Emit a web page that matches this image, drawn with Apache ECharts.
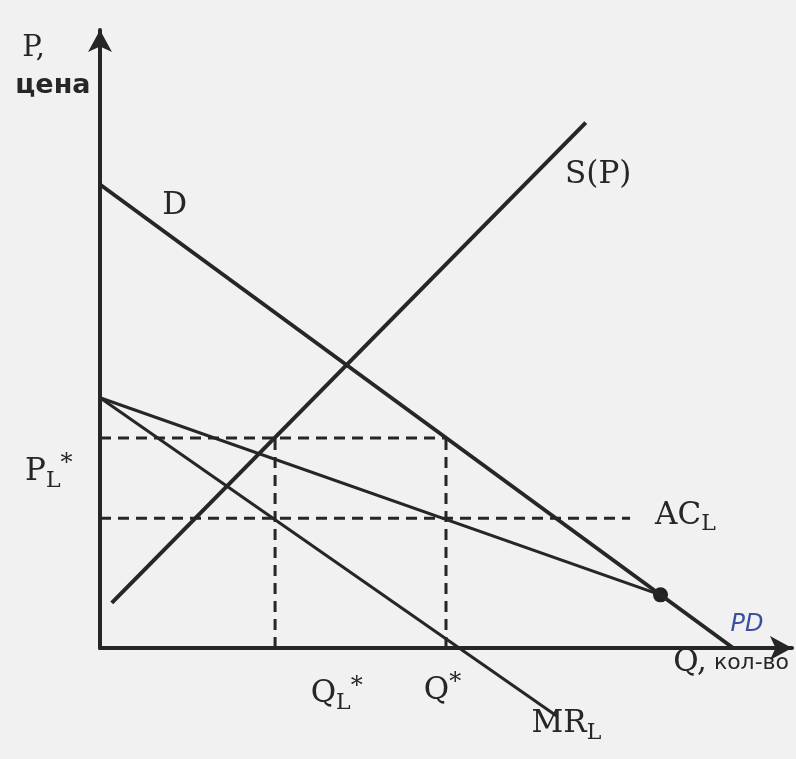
<!DOCTYPE html>
<html>
<head>
<meta charset="utf-8">
<title>Лидер на рынке</title>
<script src="https://cdn.jsdelivr.net/npm/echarts@6/dist/echarts.min.js"></script>
<style>
  html, body { margin: 0; padding: 0; background: #f1f1f1; }
  #chart { width: 796px; height: 759px; }
</style>
</head>
<body>
<div id="chart"></div>
<script>
// линии графика (Q, P)
const demand = [[0, 75], [91.5, 0]];          // D
const supply = [[1.7, 7.3], [70.2, 85]];      // S(P)
const leaderDemand = [[0, 40.5], [81, 8.6]];  // остаточный спрос лидера
const marginal = [[0, 40.5], [66, -11]];      // MR_L
const dot = [[81, 8.6]];

// уровни для пунктира
const priceLevel = 34;
const costLevel = 21;
const qLeader = 25.3;
const qMarket = 50;
const costEnd = 76.6;

// подписи: [Q, P, текст]
const labels = [
  [-9.6, 97, '{m0|P,}'],
  [-6.8, 91, '{b|цена}'],
  [10.8, 71.5, '{m|D}'],
  [72, 76.5, '{m|S(P)}'],
  [-7.4, 28.5, '{m|P}{s|L}{t|*}'],
  [84.6, 21.4, '{m|AC}{s|L}'],
  [34.2, -7.5, '{m|Q}{s|L}{t|*}'],
  [49.5, -7, '{m|Q}{t|*}'],
  [67.4, -12.3, '{m|MR}{s|L}'],
  [91.2, -2.5, '{m|Q,}{k| кол-во}'],
  [93.5, 3.8, '{p|PD}']
];

const ink = '#262626';

function solid(name, data, width) {
  return {
    name: name,
    type: 'line',
    data: data,
    symbol: 'none',
    clip: false,
    silent: true,
    lineStyle: { color: ink, width: width }
  };
}

function dashed(name, data) {
  return {
    name: name,
    type: 'line',
    data: data,
    symbol: 'none',
    clip: false,
    silent: true,
    lineStyle: { color: ink, width: 3, type: [11, 7] }
  };
}

const serif = 'DejaVu Serif';

const chart = echarts.init(document.getElementById('chart'));

chart.setOption({
  backgroundColor: '#f1f1f1',
  animation: false,
  grid: { left: 100, right: 4, top: 30, bottom: 111 },
  xAxis: {
    type: 'value',
    min: 0,
    max: 100,
    axisLine: {
      show: true,
      symbol: ['none', 'arrow'],
      symbolSize: [18, 22],
      lineStyle: { color: ink, width: 4 }
    },
    axisTick: { show: false },
    axisLabel: { show: false },
    splitLine: { show: false }
  },
  yAxis: {
    type: 'value',
    min: 0,
    max: 100,
    axisLine: {
      show: true,
      symbol: ['none', 'arrow'],
      symbolSize: [18, 22],
      lineStyle: { color: ink, width: 4 }
    },
    axisTick: { show: false },
    axisLabel: { show: false },
    splitLine: { show: false }
  },
  series: [
    dashed('price', [[0, priceLevel], [qMarket, priceLevel]]),
    dashed('cost', [[0, costLevel], [costEnd, costLevel]]),
    dashed('qL', [[qLeader, 0], [qLeader, priceLevel]]),
    dashed('q', [[qMarket, 0], [qMarket, priceLevel]]),
    solid('D', demand, 4),
    solid('S', supply, 4),
    solid('DL', leaderDemand, 3),
    solid('MR', marginal, 3),
    {
      name: 'dot',
      type: 'scatter',
      data: dot,
      symbolSize: 15,
      clip: false,
      silent: true,
      itemStyle: { color: '#222', opacity: 1 }
    },
    {
      name: 'labels',
      type: 'scatter',
      data: labels,
      symbolSize: 0,
      clip: false,
      silent: true,
      itemStyle: { opacity: 1 },
      label: {
        show: true,
        position: 'inside',
        formatter: function (p) { return p.data[2]; },
        rich: {
          m0: { fontFamily: serif, fontSize: 29, color: ink, lineHeight: 36 },
          m: { fontFamily: serif, fontSize: 31, color: ink, lineHeight: 40 },
          s: { fontFamily: serif, fontSize: 22, color: ink, lineHeight: 24, verticalAlign: 'bottom' },
          t: { fontFamily: serif, fontSize: 24, color: ink, lineHeight: 26, verticalAlign: 'top' },
          b: { fontFamily: 'DejaVu Sans', fontWeight: 'bold', fontSize: 27, color: ink, lineHeight: 32 },
          k: { fontFamily: 'DejaVu Sans', fontSize: 22, color: ink, lineHeight: 40 },
          p: { fontFamily: 'DejaVu Sans', fontStyle: 'italic', fontSize: 24, color: '#3b4f9e', lineHeight: 30 }
        }
      }
    }
  ]
});
</script>
</body>
</html>
